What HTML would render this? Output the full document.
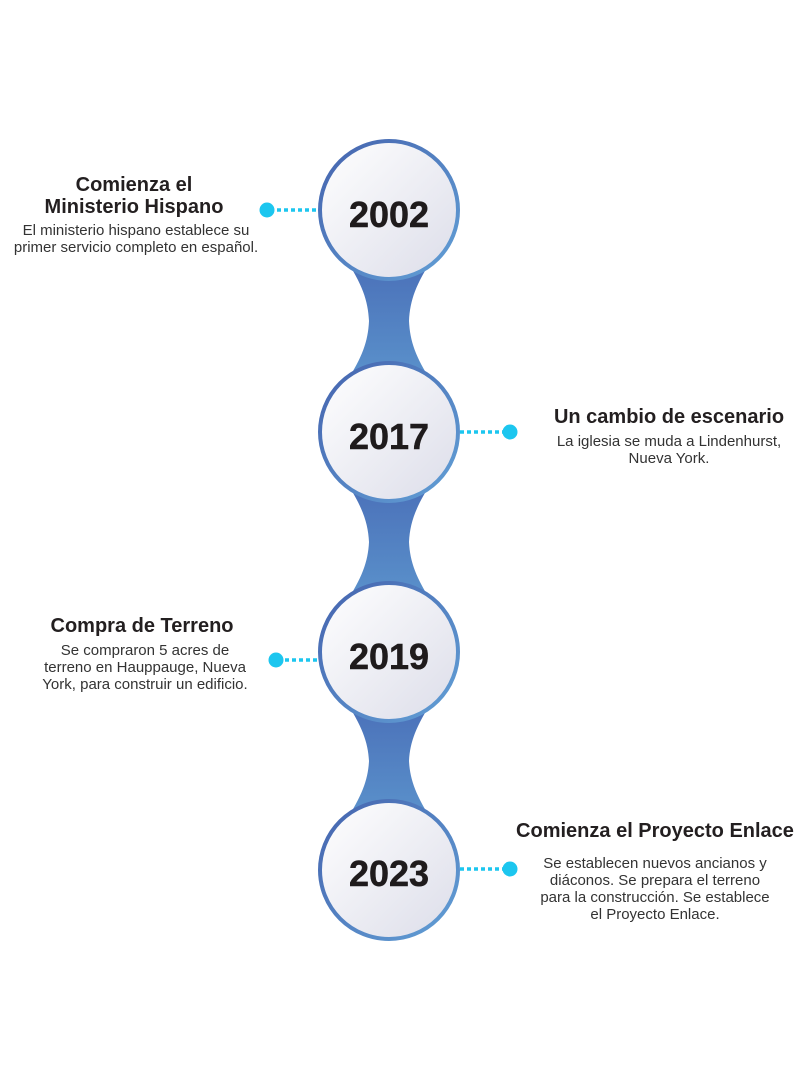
<!DOCTYPE html>
<html><head><meta charset="utf-8"><style>
html,body{margin:0;padding:0;background:#fff;}
svg{display:block;}
text{font-family:"Liberation Sans",sans-serif;fill:#231f20;}
.t{font-weight:bold;font-size:20px;}
.b{font-size:15px;fill:#333;}
.y{font-weight:bold;font-size:36px;fill:#1f1b1c;stroke:#1f1b1c;stroke-width:0.5px;}
</style></head><body>
<svg width="810" height="1080" viewBox="0 0 810 1080" xmlns="http://www.w3.org/2000/svg">
<defs>
<linearGradient id="neck" x1="0" y1="0" x2="0" y2="1">
<stop offset="0" stop-color="#4a6fb8"/><stop offset="1" stop-color="#5b93cc"/></linearGradient>
<linearGradient id="ring" x1="0" y1="0" x2="1" y2="1">
<stop offset="0" stop-color="#4563ae"/><stop offset="1" stop-color="#62a0d6"/></linearGradient>
<linearGradient id="fill" x1="0" y1="0" x2="1" y2="1">
<stop offset="0" stop-color="#ffffff"/><stop offset="1" stop-color="#dcdde9"/></linearGradient>
</defs>
<g fill="url(#neck)">
<path d="M345,258 C362,284 368,300 369,321 C368,342 362,358 345,384 L433,384 C416,358 410,342 409,321 C410,300 416,284 433,258 Z"/>
<path d="M345,480 C362,506 368,522 369,542 C368,562 362,578 345,604 L433,604 C416,578 410,562 409,542 C410,522 416,506 433,480 Z"/>
<path d="M345,700 C362,726 368,742 369,761 C368,780 362,796 345,822 L433,822 C416,796 410,780 409,761 C410,742 416,726 433,700 Z"/>
</g>
<g stroke="#1cc6ef" stroke-width="3.5" stroke-dasharray="4,3">
<line x1="270" y1="210" x2="320" y2="210"/>
<line x1="460" y1="432" x2="508" y2="432"/>
<line x1="278" y1="660" x2="320" y2="660"/>
<line x1="460" y1="869" x2="508" y2="869"/>
</g>
<g fill="#1cc6ef">
<circle cx="267" cy="210" r="7.5"/><circle cx="510" cy="432" r="7.5"/>
<circle cx="276" cy="660" r="7.5"/><circle cx="510" cy="869" r="7.5"/>
</g>
<g fill="url(#fill)" stroke="url(#ring)" stroke-width="4">
<circle cx="389" cy="210" r="69"/><circle cx="389" cy="432" r="69"/>
<circle cx="389" cy="652" r="69"/><circle cx="389" cy="870" r="69"/>
</g>
<g text-anchor="middle">
<text x="389" y="227" class="y">2002</text>
<text x="389" y="449" class="y">2017</text>
<text x="389" y="669" class="y">2019</text>
<text x="389" y="886" class="y">2023</text>
</g>
<g text-anchor="middle">
<text x="134" y="191" class="t">Comienza el</text>
<text x="134" y="213" class="t">Ministerio Hispano</text>
<text x="136" y="235" class="b">El ministerio hispano establece su</text>
<text x="136" y="252" class="b">primer servicio completo en español.</text>

<text x="669" y="423" class="t">Un cambio de escenario</text>
<text x="669" y="446" class="b">La iglesia se muda a Lindenhurst,</text>
<text x="669" y="463" class="b">Nueva York.</text>

<text x="142" y="632" class="t">Compra de Terreno</text>
<text x="145" y="655" class="b">Se compraron 5 acres de</text>
<text x="145" y="672" class="b">terreno en Hauppauge, Nueva</text>
<text x="145" y="689" class="b">York, para construir un edificio.</text>

<text x="655" y="837" class="t">Comienza el Proyecto Enlace</text>
<text x="655" y="868" class="b">Se establecen nuevos ancianos y</text>
<text x="655" y="885" class="b">diáconos. Se prepara el terreno</text>
<text x="655" y="902" class="b">para la construcción.  Se establece</text>
<text x="655" y="919" class="b">el Proyecto Enlace.</text>
</g>
</svg>
</body></html>
